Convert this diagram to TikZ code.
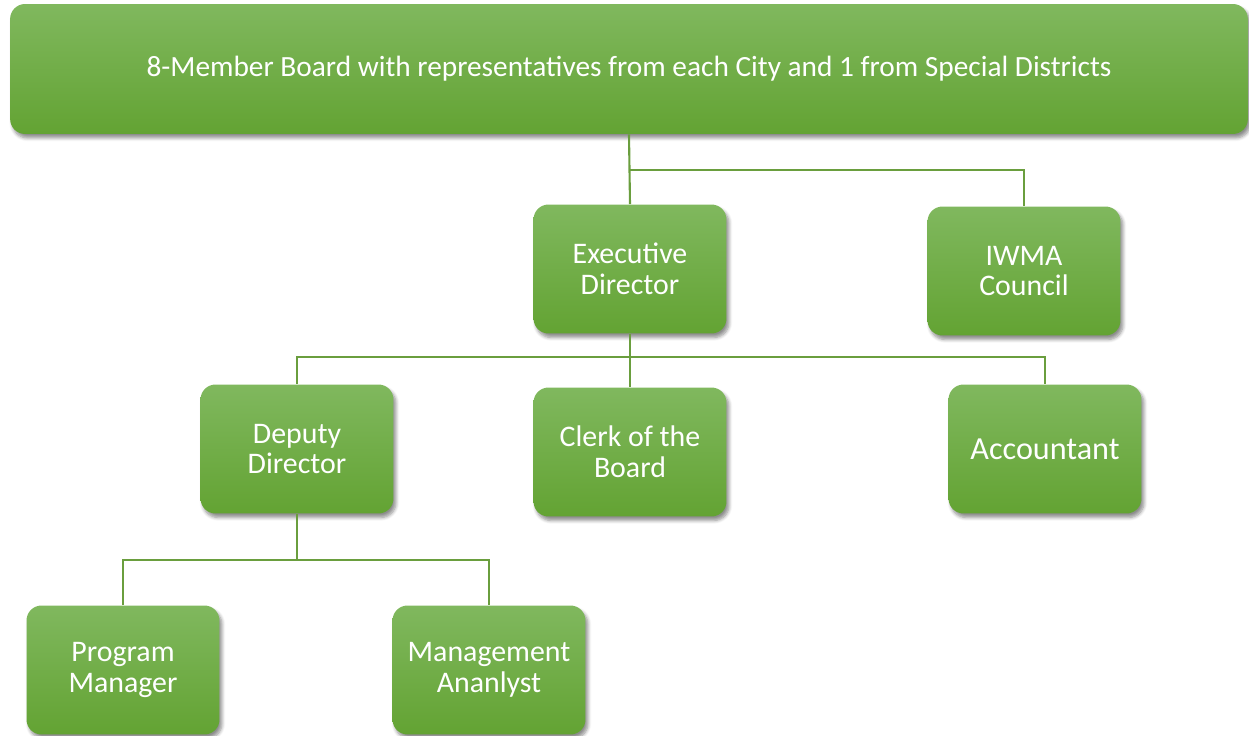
\documentclass[tikz,border=0pt]{standalone}
\usepackage{fontspec}
\setmainfont{Carlito}
\usetikzlibrary{shadows.blur}

\definecolor{boxtop}{HTML}{80B85E}
\definecolor{boxbot}{HTML}{63A333}
\definecolor{linkgreen}{HTML}{6A9E3E}

\tikzset{
    post/.style={rounded corners=0.3cm, top color=boxtop, bottom color=boxbot,
        text=white, align=center, inner sep=0pt,
        font=\fontsize{17}{17.6}\selectfont,
        minimum width=3.86cm, minimum height=2.58cm,
        blur shadow={shadow xshift=0.05cm, shadow yshift=-0.08cm,
            shadow blur steps=6, shadow opacity=45}},
    link/.style={draw=linkgreen, line width=1.2pt}
}

\begin{document}
\begin{tikzpicture}[x=0.02cm, y=-0.02cm]
            \useasboundingbox (0,0) rectangle (1249,736);

            % the boxes
            \node[post, minimum width=24.76cm, minimum height=2.6cm,
                font=\fontsize{16.7}{17}\selectfont] (board) at (629,69)
                {8-Member Board with representatives from each City and 1 from Special Districts};
            \node[post] (exec) at (630,269) {Executive\\Director};
            \node[post] (iwma) at (1024,271) {IWMA\\Council};
            \node[post] (deputy) at (297,449) {Deputy\\Director};
            \node[post] (clerk) at (630,452) {Clerk of the\\Board};
            \node[post, font=\fontsize{18.3}{19}\selectfont] (acct) at (1045,449) {Accountant};
            \node[post] (prog) at (123,670) {Program\\Manager};
            \node[post] (mgmt) at (489,670) {Management\\Ananlyst};

            % the lines between them
            \coordinate (b1) at (630,170);
            \coordinate (e1) at (630,357);
            \coordinate (d1) at (297,560);

            \begin{scope}[on background layer/.try]
                \draw[link] (board.south) -- (exec.north);
                \draw[link] (b1) -| (iwma.north);

                \draw[link] (exec.south) -- (clerk.north);
                \draw[link] (deputy.north) |- (e1) -| (acct.north);

                \draw[link] (deputy.south) -- (d1);
                \draw[link] (prog.north) |- (d1) -| (mgmt.north);
            \end{scope}
        \end{tikzpicture}
\end{document}
